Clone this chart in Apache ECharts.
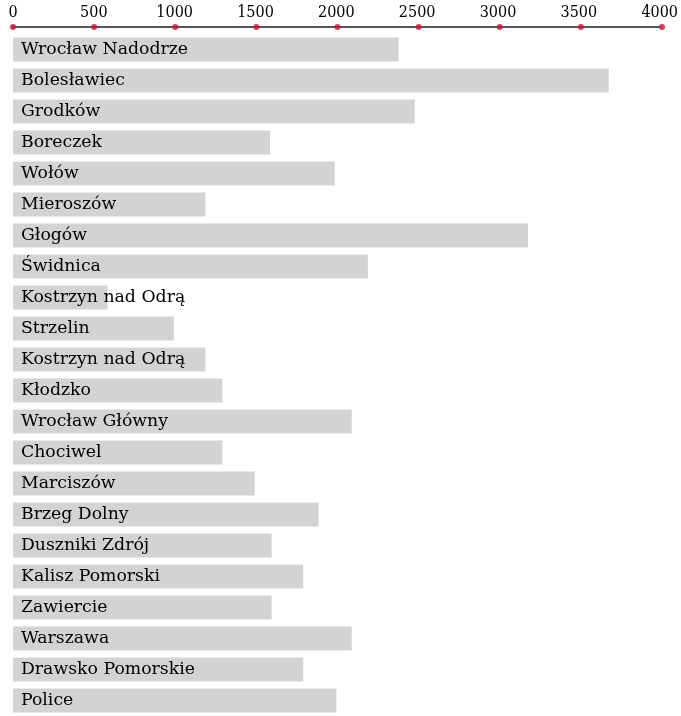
<!DOCTYPE html>
<html>
<head>
<meta charset="utf-8">
<script src="https://cdn.jsdelivr.net/npm/echarts@6/dist/echarts.min.js"></script>
<style>
html,body{margin:0;padding:0;background:#fff;}
#chart{width:681px;height:716px;}
</style>
</head>
<body>
<div id="chart"></div>
<script>
const categories = [
  "Wrocław Nadodrze","Bolesławiec","Grodków","Boreczek","Wołów","Mieroszów",
  "Głogów","Świdnica","Kostrzyn nad Odrą","Strzelin","Kostrzyn nad Odrą ",
  "Kłodzko","Wrocław Główny","Chociwel","Marciszów","Brzeg Dolny",
  "Duszniki Zdrój","Kalisz Pomorski","Zawiercie","Warszawa","Drawsko Pomorskie","Police"
];
const values = [
  2385, 3685, 2485, 1590, 1990, 1190,
  3185, 2195, 585, 995, 1190,
  1295, 2095, 1295, 1495, 1890,
  1600, 1795, 1600, 2095, 1795, 2000
];
const tickValues = [0, 500, 1000, 1500, 2000, 2500, 3000, 3500, 4000];

const FONT = "DejaVu Serif";
const TICKFONT = "'DejaVu Serif Condensed', 'DejaVu Serif'";
const chart = echarts.init(document.getElementById('chart'), null, {renderer:'canvas'});
chart.setOption({
  animation: false,
  grid: [
    {left: 13, right: 19, top: 34, bottom: -4, containLabel: false},
    {left: 13, right: 19, top: 22, height: 10}
  ],
  xAxis: [
    {
      gridIndex: 0, type: 'value', position: 'top', offset: 7,
      min: 0, max: 4000, interval: 500,
      axisLine: {show: true, lineStyle: {color: '#555', width: 2}},
      axisTick: {show: false},
      splitLine: {show: false},
      axisLabel: {fontFamily: TICKFONT, fontSize: 16, color: '#000', margin: 6,
                  formatter: v => String(v)}
    },
    {
      gridIndex: 1, type: 'value', min: 0, max: 4000, show: false
    }
  ],
  yAxis: [
    {
      gridIndex: 0, type: 'category', data: categories, inverse: true,
      axisLine: {show: false}, axisTick: {show: false}, axisLabel: {show: false}
    },
    {
      gridIndex: 1, type: 'value', min: 0, max: 1, show: false
    }
  ],
  series: [
    {
      type: 'bar', xAxisIndex: 0, yAxisIndex: 0,
      data: values, barWidth: 24,
      itemStyle: {color: '#d2d3d5'},
      label: {
        show: true, position: 'insideLeft', distance: 8,
        formatter: p => p.name.trim(),
        fontFamily: FONT, fontSize: 17.3, color: '#000'
      },
      silent: true
    },
    {
      type: 'scatter', xAxisIndex: 1, yAxisIndex: 1,
      data: tickValues.map(v => [v, 0.5]),
      symbolSize: 6, itemStyle: {color: '#c4122f'},
      z: 5, silent: true
    }
  ]
});
</script>
</body>
</html>
